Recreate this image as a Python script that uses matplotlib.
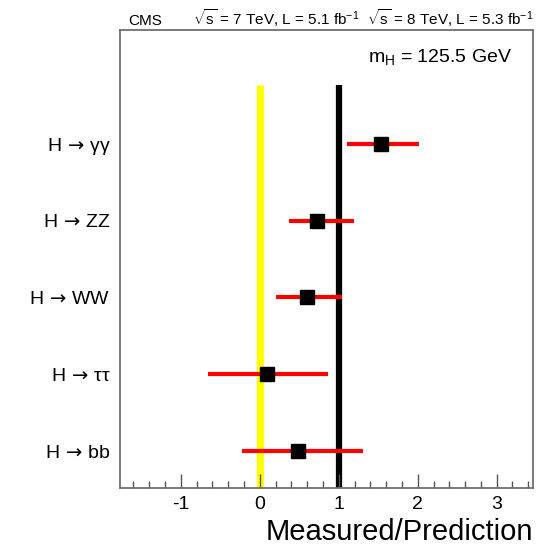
import matplotlib
matplotlib.use("Agg")
import matplotlib.pyplot as plt
from matplotlib.ticker import MultipleLocator

plt.rcParams['font.family'] = ['Liberation Sans', 'DejaVu Sans']
plt.rcParams['mathtext.fontset'] = 'custom'
plt.rcParams['mathtext.rm'] = 'Liberation Sans'
plt.rcParams['mathtext.it'] = 'Liberation Sans'
plt.rcParams['mathtext.sf'] = 'DejaVu Sans'
plt.rcParams['axes.unicode_minus'] = False

# Signal strength per decay channel (top to bottom)
channels = [r"H$\,\mathsf{\rightarrow}\,$γγ", r"H$\,\mathsf{\rightarrow}\,$ZZ", r"H$\,\mathsf{\rightarrow}\,$WW",
            r"H$\,\mathsf{\rightarrow}\,$ττ", r"H$\,\mathsf{\rightarrow}\,$bb"]
mu = [1.54, 0.73, 0.60, 0.09, 0.48]
err_low = [1.10, 0.37, 0.20, -0.65, -0.22]
err_high = [2.01, 1.19, 1.04, 0.86, 1.31]

ypos = list(range(len(channels), 0, -1))

fig = plt.figure(figsize=(5.43, 5.47), dpi=100)
ax = fig.add_axes([0.221, 0.108, 0.7606, 0.837])

# reference lines at 0 and SM prediction
ax.plot([0, 0], [0.52, 5.76], color="#ffff00", lw=5.2, solid_capstyle="butt", zorder=1)
ax.plot([1, 1], [0.52, 5.76], color="black", lw=4.5, solid_capstyle="butt", zorder=1)

for y, m, lo, hi in zip(ypos, mu, err_low, err_high):
    ax.plot([lo, hi], [y, y], color="#ff0000", lw=3, solid_capstyle="butt", zorder=2)
    ax.plot(m, y, marker="s", ms=9.5, color="black", zorder=3)

ax.set_xlim(-1.77, 3.46)
ax.set_ylim(0.52, 6.48)

ax.set_yticks(ypos)
ax.set_yticklabels(channels, fontsize=14)
ax.tick_params(axis="y", length=0, pad=7)

ax.xaxis.set_major_locator(MultipleLocator(1))
ax.xaxis.set_minor_locator(MultipleLocator(0.2))
ax.tick_params(axis="x", which="major", direction="in", length=10, width=1, color="#555555", labelsize=14, pad=6)
ax.tick_params(axis="x", which="minor", direction="in", length=5, width=1, color="#555555")
ax.tick_params(axis="x", top=False)

for s in ax.spines.values():
    s.set_color("#707070")
    s.set_linewidth(1.3)

fig.text(0.982, 0.012, "Measured/Prediction", ha="right", va="baseline", fontsize=21)
fig.text(0.237, 0.954, "CMS", fontsize=11, va="baseline")
fig.text(0.982, 0.954,
         r"$\sqrt{s}$ = 7 TeV, L = 5.1 fb$^{-1}$  $\sqrt{s}$ = 8 TeV, L = 5.3 fb$^{-1}$",
         fontsize=11, ha="right", va="baseline")
ax.text(0.60, 0.93, r"m$_{\mathrm{H}}$ = 125.5 GeV", transform=ax.transAxes, fontsize=14, va="baseline")

fig.savefig("out.png", dpi=100)
